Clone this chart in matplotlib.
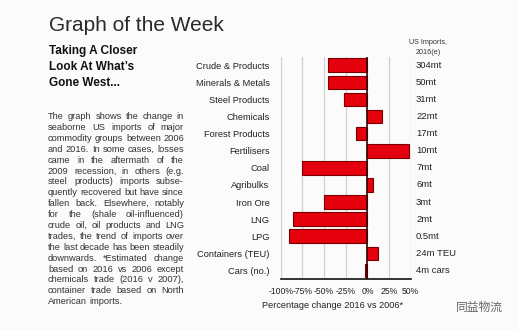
import matplotlib
matplotlib.use("Agg")
import matplotlib.pyplot as plt

W, H = 518, 330

categories = ["Crude & Products", "Minerals & Metals", "Steel Products", "Chemicals",
              "Forest Products", "Fertilisers", "Coal", "Agribulks", "Iron Ore",
              "LNG", "LPG", "Containers (TEU)", "Cars (no.)"]
pct_change = [-45, -45, -27, 17, -13, 48, -76, 7, -50, -86, -91, 12, -3]
imports_2016 = ["304mt", "50mt", "31mt", "22mt", "17mt", "10mt", "7mt", "6mt",
                "3mt", "2mt", "0.5mt", "24m TEU", "4m cars"]
x_ticks = [-100, -75, -50, -25, 0, 25, 50]
x_tick_labels = ["-100%", "-75%", "-50%", "-25%", "0%", "25%", "50%"]

title = "Graph of the Week"
subtitle = ["Taking A Closer", "Look At What\u2019s", "Gone West..."]
para_lines = [
    "The graph shows the change in",
    "seaborne US imports of major",
    "commodity groups between 2006",
    "and 2016. In some cases, losses",
    "came in the aftermath of the",
    "2009 recession, in others (e.g.",
    "steel products) imports subse-",
    "quently recovered but have since",
    "fallen back. Elsewhere, notably",
    "for the (shale oil-influenced)",
    "crude oil, oil products and LNG",
    "trades, the trend of imports over",
    "the last decade has been steadily",
    "downwards. *Estimated change",
    "based on 2016 vs 2006 except",
    "chemicals trade (2016 v 2007),",
    "container trade based on North",
    "American imports.",
]

FONT = "Liberation Sans"
plt.rcParams["font.family"] = [FONT, "DejaVu Sans"]

fig = plt.figure(figsize=(W / 100, H / 100), dpi=100)
fig.patch.set_facecolor("#fbfbfb")

def fx(px):
    return px / W

def fy(py):
    return 1 - py / H

ax_l, ax_r, ax_t, ax_b = 280.7, 410.7, 56.7, 279.0
ax = fig.add_axes([fx(ax_l), fy(ax_b), fx(ax_r - ax_l), (ax_b - ax_t) / H])
ax.set_facecolor("#fbfbfb")

ypos = list(range(len(categories)))
ax.barh(ypos, pct_change, height=0.8, color="#e5000e", edgecolor="#7a0000",
        linewidth=0.8, zorder=3)
ax.set_xlim(-100, 50)
ax.set_ylim(len(categories) - 0.5, -0.5)
ax.set_yticks(ypos)
ax.set_yticklabels(categories, fontsize=6.7, color="#222222")
ax.tick_params(axis="y", length=0, pad=8)
ax.set_xticks(x_ticks)
ax.set_xticklabels(x_tick_labels, fontsize=6.2, color="#222222")
ax.tick_params(axis="x", length=0, pad=6)
for v in x_ticks:
    if v == 0:
        ax.axvline(v, color="#3a0000", lw=1.2, zorder=4)
    else:
        ax.axvline(v, color="#d0d0d0", lw=0.9, zorder=1)
for s in ["top", "left", "right"]:
    ax.spines[s].set_visible(False)
ax.spines["bottom"].set_color("#111111")
ax.spines["bottom"].set_linewidth(1.2)

# right-hand labels
for i, lab in enumerate(imports_2016):
    ax.annotate(lab, xy=(1.0, i), xycoords=ax.get_yaxis_transform(),
                xytext=(5.3, 0), textcoords="offset pixels",
                ha="left", va="center", fontsize=6.8, color="#222222")
fig.text(fx(428), fy(43), "US Imports,", ha="center", va="center", fontsize=5.2, color="#333333")
fig.text(fx(428), fy(52), "2016(e)", ha="center", va="center", fontsize=5.2, color="#333333")

fig.text(fx(333), fy(306), "Percentage change 2016 vs 2006*", ha="center", va="center",
         fontsize=6.6, color="#222222")

# left text block
fig.text(fx(49), fy(31), title, ha="left", va="baseline", fontsize=15,
         color="#2a2a2a")
for k, line in enumerate(subtitle):
    fig.text(fx(49), fy(54 + 16 * k), line, ha="left", va="baseline", fontsize=8.5,
             fontweight="bold", color="#111111")

# justified paragraph
PF = 6.7
px_left, px_right = 48.0, 184.0
y0, dy = 116.7, 10.88
fig.canvas.draw()
renderer = fig.canvas.get_renderer()
probe = fig.text(0, 0, "a a", fontsize=PF)
probe2 = fig.text(0, 0, "aa", fontsize=PF)
space_w = probe.get_window_extent(renderer).width - probe2.get_window_extent(renderer).width
probe.remove()
probe2.remove()
for k, line in enumerate(para_lines):
    yy = fy(y0 + dy * k)
    words = line.split(" ")
    texts = [fig.text(0, yy, w, ha="left", va="center", fontsize=PF, color="#333333")
             for w in words]
    widths = [t.get_window_extent(renderer).width for t in texts]
    if k == len(para_lines) - 1 or len(words) == 1:
        gap = space_w
    else:
        gap = max((px_right - px_left - sum(widths)) / (len(words) - 1), 1.5)
    x = px_left
    for t, w in zip(texts, widths):
        t.set_x(fx(x))
        x += w + gap

fig.text(fx(456), fy(307), "同益物流", ha="left", va="center", fontsize=8.5,
         family=["Noto Sans CJK SC", "DejaVu Sans"], color="#666666")

fig.savefig("out.png", dpi=100, facecolor=fig.get_facecolor())
